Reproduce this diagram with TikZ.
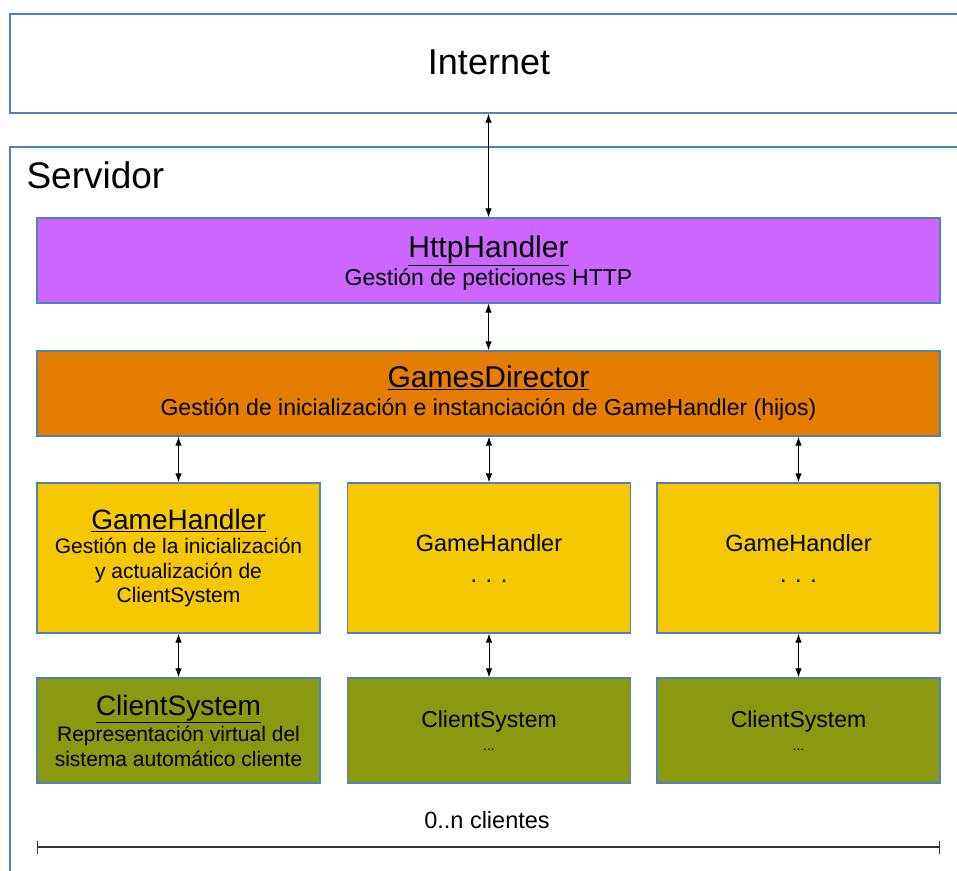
\documentclass[tikz,border=0pt]{standalone}
\usepackage{fontspec}
\setmainfont{Liberation Sans}
\usetikzlibrary{arrows.meta}
\definecolor{bordblue}{RGB}{79,129,189}
\definecolor{httpfill}{RGB}{204,102,255}
\definecolor{gdfill}{RGB}{229,126,0}
\definecolor{ghfill}{RGB}{245,200,0}
\definecolor{csfill}{RGB}{138,153,16}
\newcommand{\fsz}[2]{\fontsize{#1}{#2}\selectfont}
\begin{document}
\begin{tikzpicture}[x=1pt,y=-1pt,
  panel/.style={draw=bordblue, line width=1.4pt, fill=white, inner sep=0pt},
  box/.style={draw=bordblue, line width=1.3pt, inner sep=0pt, align=center, text=black},
  wide/.style={box, minimum width=903pt, minimum height=85pt, font=\fsz{23}{28}},
  ghbox/.style={box, minimum width=283pt, minimum height=150pt, fill=ghfill},
  csbox/.style={box, minimum width=283pt, minimum height=105pt, fill=csfill},
  arr/.style={{Latex[length=9pt,width=6.5pt]}-{Latex[length=9pt,width=6.5pt]}, line width=1pt, black},
]
\useasboundingbox (0,0) rectangle (957,870);
\clip (0,0) rectangle (957,870);
\fill[white] (0,0) rectangle (957,870);

% outer panels
\node[panel, minimum width=990pt, minimum height=99pt] (internet) at (505,63.5) {};
\node[font=\fsz{36}{40}] (internettext) at (489,62) {Internet};
\node[panel, minimum width=990pt, minimum height=760pt] (servidor) at (505,527) {};
\node[anchor=west, font=\fsz{37}{40}] (servtext) at (23,175) {Servidor};

% HttpHandler
\node[wide, fill=httpfill, text depth=0pt] (http) at (488.5,260.5)
  {\fsz{30}{32}\underline{HttpHandler}\\
   Gestión de peticiones HTTP};

% GamesDirector
\node[wide, fill=gdfill] (gd) at (488.5,393.5)
  {\fsz{30}{32}\underline{GamesDirector}\\
   Gestión de inicialización e instanciación de GameHandler (hijos)};

% GameHandlers
\node[ghbox, font=\fsz{21}{24.5}] (gh1) at (178.5,558)
  {\fsz{28}{30}\underline{GameHandler}\\[0pt]
   Gestión de la inicialización\\ y actualización de\\ ClientSystem};
\node[ghbox, font=\fsz{23.5}{31}] (gh2) at (489,558)
  {GameHandler\\ . . .};
\node[ghbox, font=\fsz{23.5}{31}] (gh3) at (798.5,558)
  {GameHandler\\ . . .};

% ClientSystems
\node[csbox, font=\fsz{21}{25}] (cs1) at (178.5,730.5)
  {\fsz{28}{30}\underline{ClientSystem}\\[1pt]
   Representación virtual del\\ sistema automático cliente};
\node[csbox, font=\fsz{23}{23}] (cs2) at (489,730.5)
  {ClientSystem\\ \fsz{14}{16}...};
\node[csbox, font=\fsz{23}{23}] (cs3) at (798.5,730.5)
  {ClientSystem\\ \fsz{14}{16}...};

% arrows
\draw[arr] (internet.south -| http.north) -- (http.north);
\draw[arr] (http.south) -- (gd.north);
\draw[arr] (gh1.north |- gd.south) -- (gh1.north);
\draw[arr] (gh2.north |- gd.south) -- (gh2.north);
\draw[arr] (gh3.north |- gd.south) -- (gh3.north);
\draw[arr] (gh1.south) -- (cs1.north);
\draw[arr] (gh2.south) -- (cs2.north);
\draw[arr] (gh3.south) -- (cs3.north);

% range
\coordinate (dl) at (37,847);
\coordinate (dr) at (940,847);
\draw[{Bar[width=13pt]}-{Bar[width=13pt]}, line width=1.4pt, black!80] (dl) -- (dr);
\node[font=\fsz{23.5}{26}] (range) at (487,820) {0..n clientes};
\end{tikzpicture}
\end{document}
